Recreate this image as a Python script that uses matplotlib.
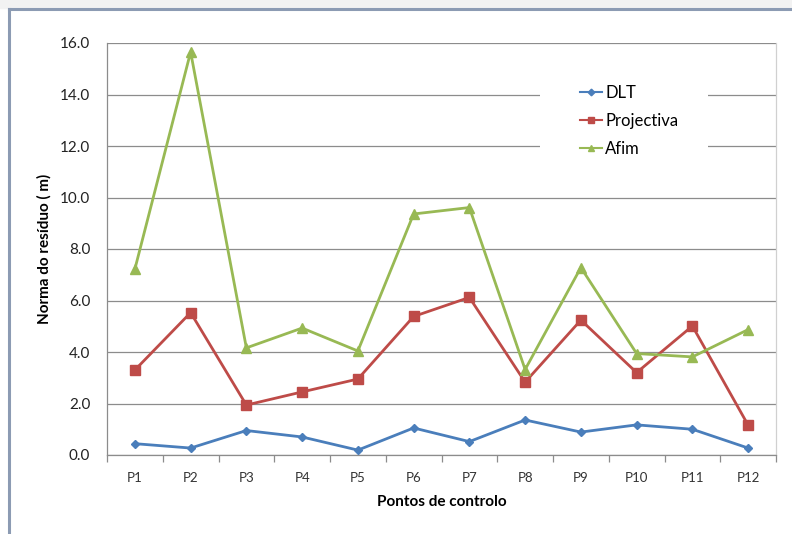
import matplotlib.pyplot as plt
from matplotlib.lines import Line2D
from matplotlib.patches import Rectangle

plt.rcParams['font.family'] = ['Lato', 'DejaVu Sans']

points = ['P1', 'P2', 'P3', 'P4', 'P5', 'P6', 'P7', 'P8', 'P9', 'P10', 'P11', 'P12']
dlt = [0.44, 0.27, 0.95, 0.70, 0.19, 1.05, 0.52, 1.36, 0.89, 1.17, 1.00, 0.27]
projectiva = [3.30, 5.53, 1.94, 2.45, 2.95, 5.38, 6.12, 2.83, 5.24, 3.20, 5.01, 1.16]
afim = [7.22, 15.65, 4.16, 4.93, 4.04, 9.36, 9.61, 3.32, 7.28, 3.94, 3.81, 4.87]

series = [
    ('DLT', dlt, '#4a7ebb', 'D', 4.5),
    ('Projectiva', projectiva, '#be4b48', 's', 6.5),
    ('Afim', afim, '#98b954', '^', 6.5),
]

W, H = 792, 534
fig = plt.figure(figsize=(W / 100, H / 100), dpi=100)
fig.patch.set_facecolor('white')

# outer chart frame
fig.add_artist(Line2D([9/W, 9/W], [0, 1 - 9/H], transform=fig.transFigure,
                      color='#8c9bb3', lw=2.2))
fig.add_artist(Line2D([9/W, 1], [1 - 9/H, 1 - 9/H], transform=fig.transFigure,
                      color='#8c9bb3', lw=2.2))
fig.add_artist(Rectangle((0, 1 - 8/H), 1, 8/H, transform=fig.transFigure,
                         color='#f2f2f2', zorder=-1))

L, R, T, B = 107, 776, 43, 455
ax = fig.add_axes([L/W, 1 - B/H, (R - L)/W, (B - T)/H])
x = list(range(len(points)))

for name, vals, col, mk, ms in series:
    ax.plot(x, vals, color=col, lw=2.0, marker=mk, markersize=ms,
            markerfacecolor=col, markeredgecolor=col, label=name, zorder=3)

ax.set_xlim(-0.5, len(points) - 0.5)
ax.set_ylim(0, 16)
yt = [0, 2, 4, 6, 8, 10, 12, 14, 16]
ax.set_yticks(yt)
ax.set_yticklabels([f'{v:.1f}' for v in yt])
ax.yaxis.grid(True, color='#8c8c8c', lw=0.9)
ax.set_axisbelow(True)
ax.tick_params(axis='y', length=0, labelsize=11, pad=12, colors='#222222')

ax.set_xticks(x)
ax.set_xticklabels(points)
ax.tick_params(axis='x', length=0, labelsize=9.5, pad=12, colors='#333333')
ax.set_xticks([i - 0.5 for i in range(len(points) + 1)], minor=True)
ax.tick_params(axis='x', which='minor', length=5, color='#8c8c8c', width=0.9)

ax.spines['top'].set_visible(False)
for side in ['left', 'bottom', 'right']:
    ax.spines[side].set_color('#8c8c8c')
    ax.spines[side].set_linewidth(0.9)
ax.spines['right'].set_color('#d0d0d0')

ax.set_xlabel('Pontos de controlo', fontsize=11, fontweight='bold', labelpad=8)
ax.set_ylabel('Norma do resíduo ( m)', fontsize=11, fontweight='bold', labelpad=6)

# white legend area masking the gridlines
ax.add_patch(Rectangle(((540 - L)/(R - L), 1 - (170 - T)/(B - T)),
                       168/(R - L), 98/(B - T), transform=ax.transAxes,
                       facecolor='white', edgecolor='none', zorder=1))

handles = [Line2D([0], [0], color=c, lw=1.5, marker=m, markersize=s * 0.75,
                  markerfacecolor=c, markeredgecolor=c) for _, _, c, m, s in series]
leg = ax.legend(handles, [s[0] for s in series], loc='upper left',
                bbox_to_anchor=((575 - L)/(R - L), 1 - (80 - T)/(B - T)),
                frameon=False, fontsize=12, handlelength=1.3, handletextpad=0.2,
                labelspacing=0.72, borderpad=0.3, borderaxespad=0)

fig.savefig('out.png', dpi=100)
